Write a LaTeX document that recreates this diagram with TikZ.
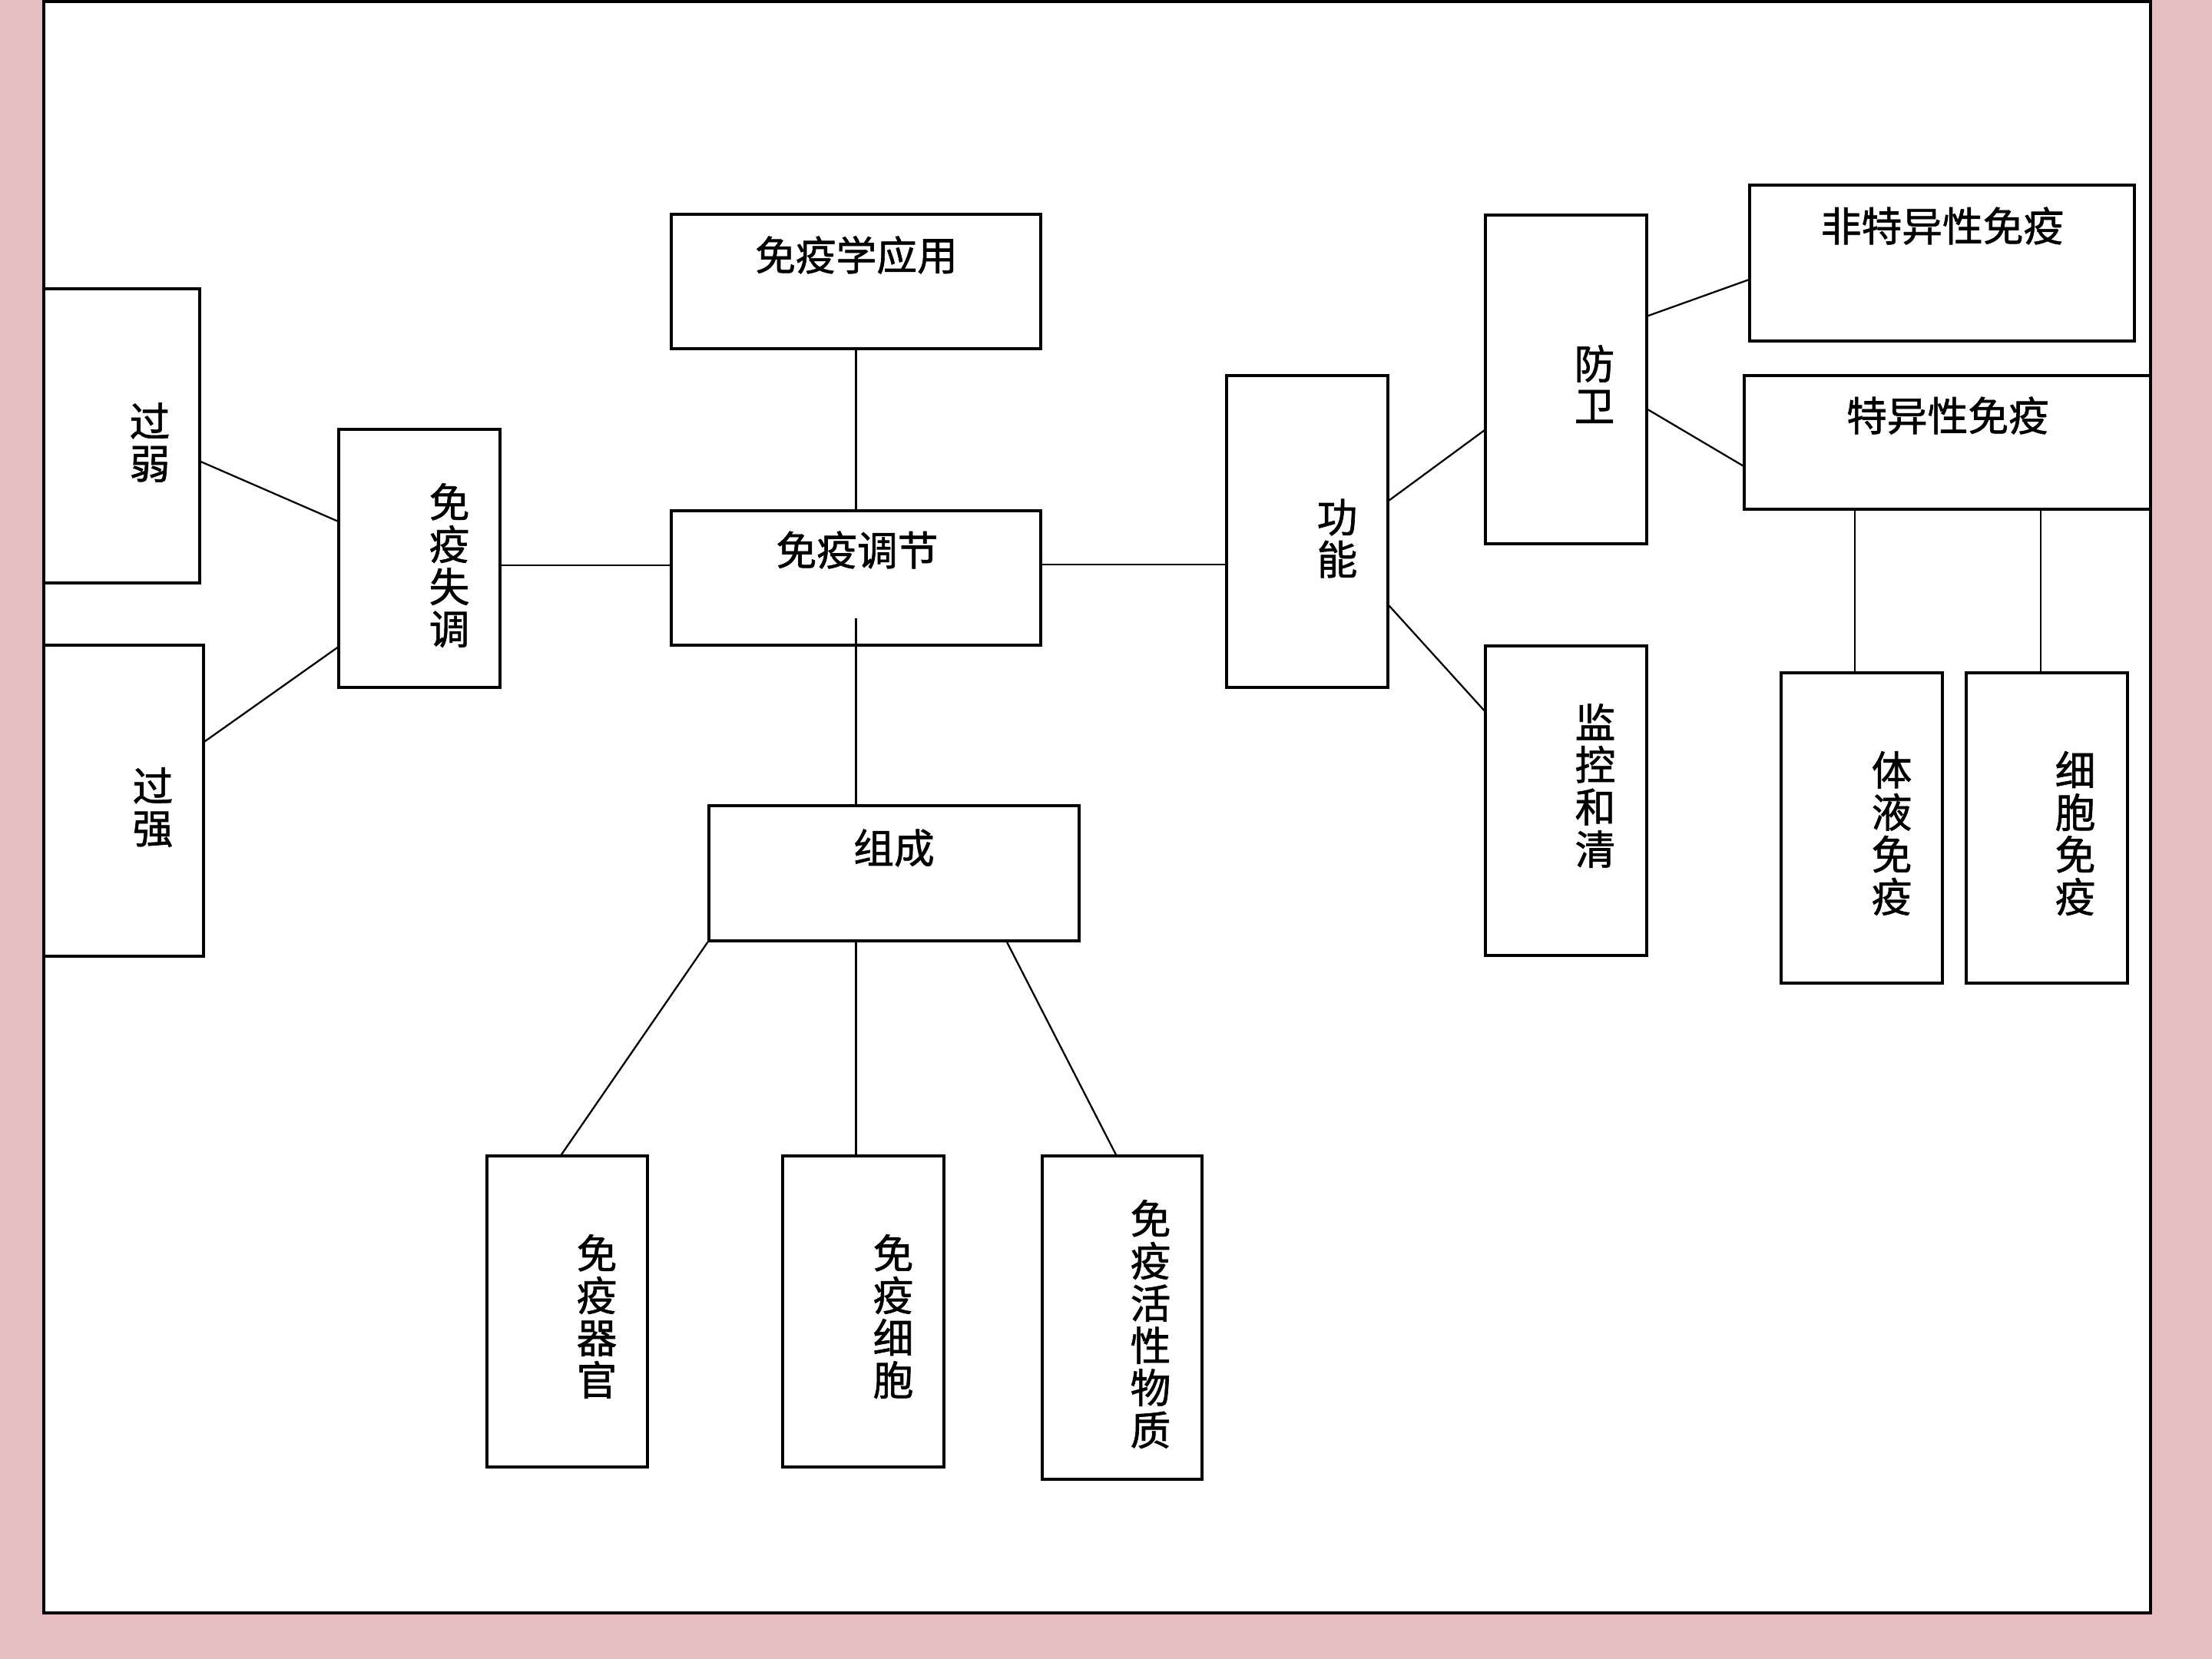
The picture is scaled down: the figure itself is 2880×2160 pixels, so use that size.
\documentclass[tikz,border=0pt]{standalone}
\usepackage{fontspec}
\newfontfamily\cjk[FakeBold=1.2]{Noto Sans CJK SC}
\usetikzlibrary{fit,calc}
\definecolor{bgpink}{RGB}{230,190,194}
\tikzset{
  box/.style={draw=black, line width=0.9pt, fill=white, inner sep=0pt, rectangle},
  txt/.style={font=\cjk\fontsize{15pt}{15.65pt}\selectfont, align=center, inner sep=0pt},
  link/.style={draw=black, line width=0.65pt}
}
\begin{document}
\begin{tikzpicture}[x=0.01cm,y=-0.01cm]
\useasboundingbox (0,0) rectangle (2880,2160);
\fill[bgpink] (0,0) rectangle (2880,2160);
\draw[fill=white, line width=1.1pt] (57,2) rectangle (2800,2100);

% boxes
\node[box, fit={(57,376) (260,759)}] (ruo) {};
\node[box, fit={(57,840) (265,1245)}] (qiang) {};
\node[box, fit={(441,559) (651,895)}] (st) {};
\node[box, fit={(874,279) (1355,454)}] (yy) {};
\node[box, fit={(874,665) (1355,840)}] (tj) {};
\node[box, fit={(923,1049) (1405,1225)}] (zc) {};
\node[box, fit={(634,1505) (843,1910)}] (qg) {};
\node[box, fit={(1019,1505) (1229,1910)}] (xb) {};
\node[box, fit={(1357,1505) (1565,1926)}] (hx) {};
\node[box, fit={(1597,489) (1807,895)}] (gn) {};
\node[box, fit={(1934,280) (2144,708)}] (fw) {};
\node[box, fit={(1934,841) (2144,1244)}] (jk) {};
\node[box, fit={(2278,241) (2779,444)}] (fty) {};
\node[box, fit={(2271,489) (2800,663)}] (ty) {};
\node[box, fit={(2319,876) (2529,1280)}] (tiye) {};
\node[box, fit={(2560,876) (2770,1280)}] (xbmy) {};

% texts
\node[txt] (truo) at (195,576) {过\\弱};
\node[txt] (tqiang) at (199,1051) {过\\强};
\node[txt] (tst) at (585,736) {免\\疫\\失\\调};
\node[txt] (tyy) at (1115,332) {免疫学应用};
\node[txt] (ttj) at (1116,716) {免疫调节};
\node[txt] (tzc) at (1164,1104) {组成};
\node[txt] (tqg) at (777,1714) {免\\疫\\器\\官};
\node[txt] (txb) at (1163,1714) {免\\疫\\细\\胞};
\node[txt] (thx) at (1498,1724) {免\\疫\\活\\性\\物\\质};
\node[txt] (tgn) at (1741,701) {功\\能};
\node[txt] (tfw) at (2076,500) {防\\卫};
\node[txt] (tjk) at (2077,1023) {监\\控\\和\\清};
\node[txt] (tfty) at (2529,294) {非特异性免疫};
\node[txt] (tty) at (2536,541) {特异性免疫};
\node[txt] (ttiye) at (2463,1085) {体\\液\\免\\疫};
\node[txt] (txbmy) at (2702,1085) {细\\胞\\免\\疫};

% connectors
\draw[link] ($(ruo.north east)!0.587!(ruo.south east)$) -- ($(st.north west)!0.357!(st.south west)$);
\draw[link] ($(qiang.north east)!0.311!(qiang.south east)$) -- ($(st.north west)!0.842!(st.south west)$);
\coordinate (c1) at ($(st.north east)!0.527!(st.south east)$);
\draw[link] (c1) -- (tj.west |- c1);
\draw[link] (yy.south) -- (tj.north);
\coordinate (c2) at ($(tj.north)!0.794!(tj.south)$);
\draw[link] (c2) -- (zc.north -| c2);
\coordinate (c3) at ($(tj.north east)!0.4!(tj.south east)$);
\draw[link] (c3) -- (gn.west |- c3);
\draw[link] (zc.south west) -- ($(qg.north west)!0.464!(qg.north east)$);
\draw[link] (zc.south -| c2) -- (xb.north -| c2);
\draw[link] ($(zc.south west)!0.803!(zc.south east)$) -- ($(hx.north west)!0.462!(hx.north east)$);
\draw[link] ($(gn.north east)!0.401!(gn.south east)$) -- ($(fw.north west)!0.654!(fw.south west)$);
\draw[link] ($(gn.north east)!0.736!(gn.south east)$) -- ($(jk.north west)!0.211!(jk.south west)$);
\draw[link] ($(fw.north east)!0.308!(fw.south east)$) -- ($(fty.north west)!0.606!(fty.south west)$);
\draw[link] ($(fw.north east)!0.591!(fw.south east)$) -- ($(ty.north west)!0.672!(ty.south west)$);
\coordinate (c4) at ($(ty.south west)!0.274!(ty.south east)$);
\draw[link] (c4) -- (tiye.north -| c4);
\coordinate (c5) at ($(ty.south west)!0.728!(ty.south east)$);
\draw[link] (c5) -- (xbmy.north -| c5);
\end{tikzpicture}
\end{document}
